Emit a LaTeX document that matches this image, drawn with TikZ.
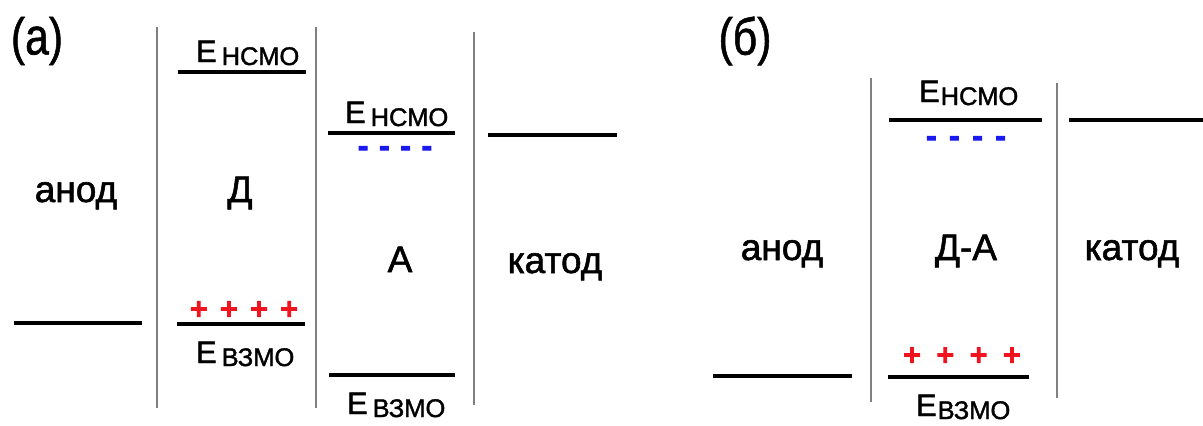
\documentclass[tikz,border=0pt]{standalone}
\usepackage{fontspec}
\setmainfont{Liberation Sans}[FakeBold=1.5]
\newfontfamily\narrowfont[FakeStretch=0.82,FakeBold=1]{Liberation Sans}
\newfontfamily\heavyfont[FakeBold=4]{DejaVu Sans Bold}
\newcommand{\mainsz}{\fontsize{37}{40}\selectfont}
\newcommand{\Esz}{\fontsize{31}{34}\selectfont}
\newcommand{\subsz}{\fontsize{25.5}{28}\selectfont}
\newcommand{\levlab}[2]{{\Esz E}\hspace{#1}\raisebox{-3pt}{\subsz #2}}
\newcommand{\plusrow}[1]{\heavyfont\fontsize{24}{28}\selectfont +\hspace{#1}+\hspace{#1}+\hspace{#1}+}
\newcommand{\minusrow}[1]{\heavyfont\fontsize{26}{30}\selectfont -\hspace{#1}-\hspace{#1}-\hspace{#1}-}
\definecolor{sepgray}{RGB}{128,128,128}
\definecolor{plusred}{RGB}{240,20,30}
\definecolor{minusblue}{RGB}{25,25,240}
\tikzset{
  level/.style={line width=3.5pt, black},
  sep/.style={line width=2.5pt, sepgray},
  txt/.style={inner sep=0pt, outer sep=0pt, font=\mainsz},
  elab/.style={inner sep=0pt, outer sep=0pt, anchor=base west},
  pluses/.style={inner sep=0pt, text=plusred},
  minuses/.style={inner sep=0pt, text=minusblue},
  paneltag/.style={inner sep=0pt, outer sep=0pt, font=\narrowfont\fontsize{52}{56}\selectfont},
}
\begin{document}
\begin{tikzpicture}[x=1pt, y=-1pt]
\useasboundingbox (0,0) rectangle (1203,426);
% ---------- panel (a) ----------
\node[paneltag] (labA) at (37,41) {(а)};
\draw[sep] (157,27) -- (157,408);
\draw[sep] (316,27) -- (316,408);
\draw[sep] (474,32) -- (474,405);
\draw[level] (14,323) -- (142,323);
\draw[level] (178,72) -- (306,72);
\draw[level] (177,324) -- (305,324);
\draw[level] (328,133) -- (455,133);
\draw[level] (329,375) -- (455,375);
\draw[level] (488,135) -- (617,135);
\node[txt, anchor=base] (anodA) at (76,202) {анод};
\node[txt, anchor=base] (donA) at (240,202) {Д};
\node[txt, anchor=base] (accA) at (400,272) {А};
\node[txt, anchor=base] (katA) at (555,273) {катод};
\node[elab] (lumoD) at (196,62) {\levlab{5pt}{НСМО}};
\node[elab] (homoD) at (196,363) {\levlab{5pt}{ВЗМО}};
\node[elab] (lumoA) at (345,123) {\levlab{5pt}{НСМО}};
\node[elab] (homoA) at (347,414) {\levlab{5pt}{ВЗМО}};
\node[pluses] (plusA) at (244,309) {\plusrow{10pt}};
\node[minuses] (minA) at (395,151) {\minusrow{10.5pt}};
% ---------- panel (b) ----------
\node[paneltag] (labB) at (745,41) {(б)};
\draw[sep] (871,78) -- (871,402);
\draw[sep] (1057,83) -- (1057,398);
\draw[level] (713,376) -- (852,376);
\draw[level] (889,120) -- (1042,120);
\draw[level] (888,377) -- (1029,377);
\draw[level] (1069,120) -- (1203,120);
\node[txt, anchor=base] (anodB) at (782,260) {анод};
\node[txt, anchor=base] (daB) at (966,260) {Д-А};
\node[txt, anchor=base] (katB) at (1132,260) {катод};
\node[elab] (lumoB) at (919,102) {\levlab{1pt}{НСМО}};
\node[elab] (homoB) at (916,416) {\levlab{1pt}{ВЗМО}};
\node[pluses] (plusB) at (962,355) {\plusrow{13.2pt}};
\node[minuses] (minB) at (966,141) {\minusrow{12.3pt}};
\end{tikzpicture}
\end{document}
